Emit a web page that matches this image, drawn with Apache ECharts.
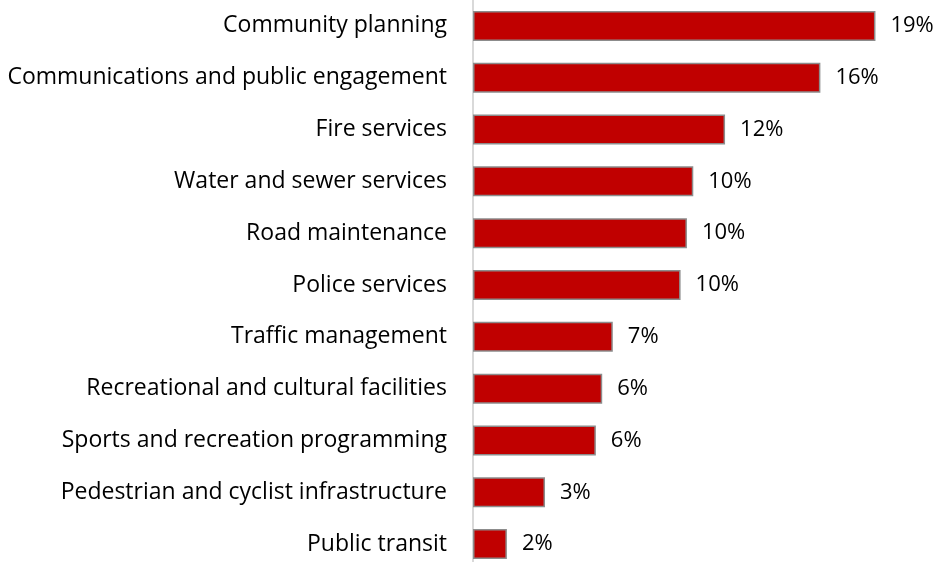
<!DOCTYPE html>
<html>
<head>
<meta charset="utf-8">
<style>
  html, body { margin: 0; padding: 0; background: #ffffff; }
  #chart { width: 941px; height: 562px; }
</style>
<script src="https://cdn.jsdelivr.net/npm/echarts@6/dist/echarts.min.js"></script>
</head>
<body>
<div id="chart"></div>
<script>
// Service areas, listed top to bottom
const categories = [
  'Community planning',
  'Communications and public engagement',
  'Fire services',
  'Water and sewer services',
  'Road maintenance',
  'Police services',
  'Traffic management',
  'Recreational and cultural facilities',
  'Sports and recreation programming',
  'Pedestrian and cyclist infrastructure',
  'Public transit'
];

// Share of responses (%)
const shares = [19.0, 16.4, 11.9, 10.4, 10.1, 9.8, 6.6, 6.1, 5.8, 3.4, 1.6];

const FONT = 'Open Sans';

const chart = echarts.init(document.getElementById('chart'), null, { renderer: 'canvas' });

chart.setOption({
  animation: false,
  backgroundColor: '#ffffff',
  grid: {
    left: 473, width: 466, top: 0, height: 570,
    containLabel: false,
    outerBoundsMode: 'none'
  },
  xAxis: {
    type: 'value',
    min: 0,
    max: 22,
    show: false
  },
  yAxis: {
    type: 'category',
    inverse: true,
    data: categories,
    axisLine: { show: true, lineStyle: { color: '#d9d9d9', width: 2 } },
    axisTick: { show: false },
    axisLabel: {
      color: '#000000',
      fontFamily: FONT,
      fontSize: 23,
      margin: 26
    },
    splitLine: { show: false }
  },
  series: [{
    type: 'bar',
    data: shares,
    barWidth: 30,
    itemStyle: { color: '#c00000', borderColor: '#8c8c8c', borderWidth: 1.5 },
    label: {
      show: true,
      position: 'right',
      distance: 15,
      color: '#000000',
      fontFamily: FONT,
      fontSize: 22,
      formatter: p => Math.round(p.value) + '%'
    }
  }]
});
</script>
</body>
</html>
